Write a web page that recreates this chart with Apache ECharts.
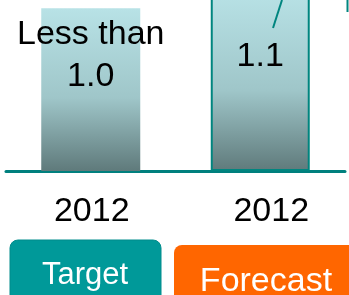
<!DOCTYPE html>
<html>
<head>
<meta charset="utf-8">
<script src="https://cdn.jsdelivr.net/npm/echarts@6/dist/echarts.min.js"></script>
<style>
  html, body { margin: 0; padding: 0; background: #fff; }
  #chart { width: 349px; height: 295px; }
</style>
</head>
<body>
<div id="chart"></div>
<script>
var categories = ['2012', '2012']
var values = [1.0, 1.1]
var valueLabels = ['Less than\n1.0', '1.1']
var tags = ['Target', 'Forecast']

var font = '"Liberation Sans", Arial, sans-serif'
var myChart = echarts.init(document.getElementById('chart'))

var barFill = new echarts.graphic.LinearGradient(0, 0, 0, 1, [
  { offset: 0, color: '#b8e2e6' },
  { offset: 0.55, color: '#9fc6c9' },
  { offset: 1, color: '#5f7a7b' }
])

var option = {
  animation: false,
  grid: { left: 6, right: 4, top: 0, bottom: 124 },
  xAxis: {
    type: 'category',
    data: categories,
    axisLine: { lineStyle: { color: '#00807e', width: 3 } },
    axisTick: { show: false },
    axisLabel: {
      interval: 0,
      margin: 24,
      fontSize: 34,
      fontFamily: font,
      color: '#000',
      formatter: function (v, i) { return '{c' + i + '|' + v + '}' },
      rich: {
        c0: { fontSize: 34, fontFamily: font, color: '#000', padding: [0, 0, 0, 2] },
        c1: { fontSize: 34, fontFamily: font, color: '#000', padding: [0, 0, 0, 22] }
      }
    }
  },
  yAxis: { type: 'value', min: 0, max: 1.05, show: false },
  series: [{
    type: 'bar',
    barWidth: 99,
    // taller bar runs off the top edge like the source
    clip: false,
    data: [
      {
        value: values[0],
        itemStyle: { color: barFill, borderWidth: 0 },
        label: { position: 'insideTop', distance: 5, lineHeight: 42 }
      },
      {
        value: values[1],
        itemStyle: { color: barFill, borderColor: '#00857f', borderWidth: 2 },
        label: { position: 'insideTop', distance: 48 }
      }
    ],
    label: {
      show: true,
      fontSize: 34,
      fontFamily: font,
      color: '#000',
      formatter: function (p) { return valueLabels[p.dataIndex] }
    }
  }],
  graphic: [
    { type: 'line', z: 100, shape: { x1: 273, y1: 28, x2: 282, y2: 0 }, style: { stroke: '#00857f', lineWidth: 2 } },
    { type: 'line', z: 100, shape: { x1: 347.5, y1: 0, x2: 347.5, y2: 12 }, style: { stroke: '#00857f', lineWidth: 2 } },
    { type: 'rect', shape: { x: 10, y: 240, width: 151, height: 80, r: 8 }, style: { fill: '#009999', stroke: '#008c8c', lineWidth: 1 } },
    { type: 'text', x: 85, y: 275, style: { text: tags[0], fill: '#fff', font: '31px ' + font, textAlign: 'center', textVerticalAlign: 'middle' } },
    { type: 'rect', shape: { x: 174, y: 245, width: 200, height: 80, r: 8 }, style: { fill: '#ff6600' } },
    { type: 'text', x: 266, y: 282, style: { text: tags[1], fill: '#fff', font: '34px ' + font, textAlign: 'center', textVerticalAlign: 'middle' } }
  ]
}

myChart.setOption(option)
</script>
</body>
</html>
